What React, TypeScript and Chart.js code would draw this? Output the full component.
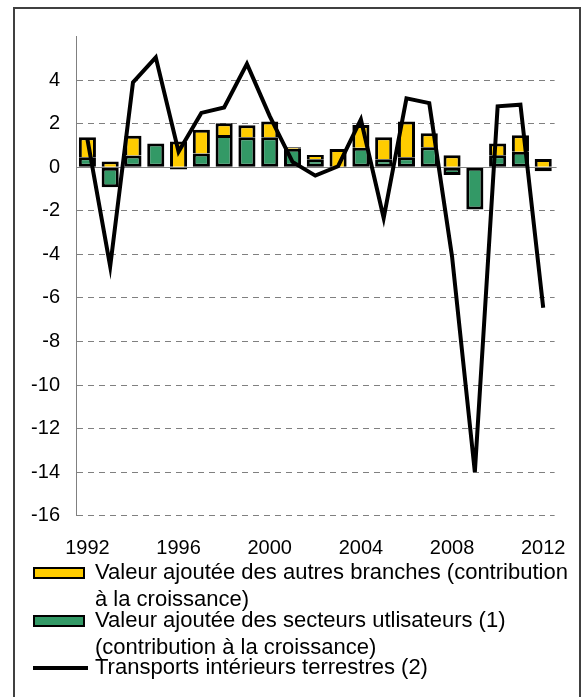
import React, { useEffect, useRef } from 'react';
import { Chart, registerables } from 'chart.js';

Chart.register(...registerables);

// ---- data ----
const years = [
  '1992', '1993', '1994', '1995', '1996', '1997', '1998', '1999', '2000', '2001', '2002',
  '2003', '2004', '2005', '2006', '2007', '2008', '2009', '2010', '2011', '2012',
];
const shownYears = ['1992', '1996', '2000', '2004', '2008', '2012'];

// Valeur ajoutée des secteurs utilisateurs (contribution à la croissance)
const secteursUtilisateurs = [
  0.46, -0.92, 0.54, 1.1, -0.1, 0.64, 1.49, 1.38, 1.38, 0.85, 0.37,
  0.03, 0.9, 0.37, 0.46, 0.92, -0.35, -1.94, 0.55, 0.72, -0.18,
];
// Valeur ajoutée des autres branches (contribution à la croissance)
const autresBranches = [
  0.92, 0.27, 0.91, 0, 1.19, 1.09, 0.54, 0.55, 0.73, 0.07, 0.2,
  0.81, 1.04, 1.01, 1.65, 0.64, 0.55, 0, 0.55, 0.75, 0.38,
];
// Transports intérieurs terrestres
const transports = [
  1.3, -4.55, 3.9, 5.05, 0.72, 2.5, 2.75, 4.75, 2.35, 0.25, -0.38,
  0.05, 2.2, -2.33, 3.17, 2.95, -4.1, -14.0, 2.8, 2.88, -6.45,
];

const yMin = -16;
const yMax = 6;
const yStep = 2;
const hiddenYTicks = [6];

const labelAutres = ['Valeur ajoutée des autres branches (contribution', 'à la croissance)'];
const labelSecteurs = ['Valeur ajoutée des secteurs utlisateurs (1)', '(contribution à la croissance)'];
const labelTransports = ['Transports intérieurs terrestres (2)'];

const YELLOW = '#FFCC00';
const GREEN = '#339966';
const GRAY = '#808080';
const FONT = "'Liberation Sans', Arial, sans-serif";

const zeroLinePlugin = {
  id: 'zeroLine',
  beforeDatasetsDraw(chart: any) {
    const { ctx, chartArea, scales } = chart;
    const y = Math.round(scales.y.getPixelForValue(0)) + 0.5;
    ctx.save();
    ctx.strokeStyle = GRAY;
    ctx.lineWidth = 1;
    ctx.beginPath();
    ctx.moveTo(chartArea.left, y);
    ctx.lineTo(chartArea.right + 2, y);
    ctx.stroke();
    ctx.restore();
  },
};

export default function App() {
  const canvasRef = useRef<HTMLCanvasElement | null>(null);

  useEffect(() => {
    if (!canvasRef.current) return;
    const chart = new Chart(canvasRef.current, {
      type: 'bar',
      data: {
        labels: years,
        datasets: [
          {
            type: 'line',
            label: labelTransports.join(' '),
            data: transports,
            borderColor: '#000000',
            backgroundColor: '#000000',
            borderWidth: 4,
            pointRadius: 0,
            tension: 0,
            order: 0,
          } as any,
          {
            type: 'bar',
            label: labelSecteurs.join(' '),
            data: secteursUtilisateurs,
            backgroundColor: GREEN,
            borderColor: '#000000',
            borderWidth: 3,
            borderSkipped: false,
            stack: 's',
            order: 1,
          },
          {
            type: 'bar',
            label: labelAutres.join(' '),
            data: autresBranches,
            backgroundColor: YELLOW,
            borderColor: '#000000',
            borderWidth: 3,
            borderSkipped: 'start',
            stack: 's',
            order: 1,
          },
        ],
      },
      options: {
        animation: false,
        responsive: true,
        maintainAspectRatio: false,
        layout: { padding: { left: 0, right: 22.4, top: 36.7, bottom: 141.3 } },
        datasets: { bar: { categoryPercentage: 1, barPercentage: 0.75 } },
        plugins: {
          legend: { display: false },
          tooltip: { enabled: false },
        },
        scales: {
          x: {
            stacked: true,
            offset: true,
            grid: { display: false, drawTicks: false },
            border: { display: false },
            ticks: {
              autoSkip: false,
              maxRotation: 0,
              padding: 21,
              color: '#000',
              font: { family: FONT, size: 20 },
              callback: function (this: any, value: any) {
                const lab = years[value as number];
                return shownYears.includes(lab) ? lab : '';
              },
            },
            afterFit: (scale: any) => {
              scale.height = 40;
            },
          },
          y: {
            stacked: true,
            min: yMin,
            max: yMax,
            grid: {
              drawTicks: false,
              lineWidth: 1,
              color: (ctx: any) => {
                const v = ctx.tick ? ctx.tick.value : null;
                if (v === 0 || hiddenYTicks.includes(v)) return 'rgba(0,0,0,0)';
                return GRAY;
              },
            },
            border: { display: true, color: GRAY, width: 1, dash: [6, 5] },
            ticks: {
              stepSize: yStep,
              padding: 16,
              color: '#000',
              font: { family: FONT, size: 20 },
              callback: (value: any) => (hiddenYTicks.includes(value) ? '' : String(value)),
            },
            afterFit: (scale: any) => {
              scale.width = 76;
            },
          },
        },
      },
      plugins: [zeroLinePlugin],
    });
    return () => chart.destroy();
  }, []);

  const legendItems = [
    { lines: labelAutres, kind: 'box', color: YELLOW, textTop: 557.9, markTop: 567 },
    { lines: labelSecteurs, kind: 'box', color: GREEN, textTop: 605.6, markTop: 615 },
    { lines: labelTransports, kind: 'line', color: '#000', textTop: 652.9, markTop: 666.3 },
  ];

  return (
    <div
      style={{
        position: 'absolute',
        left: 0,
        top: 0,
        width: 587,
        height: 697,
        overflow: 'hidden',
        background: '#fff',
      }}
    >
      <div
        style={{
          position: 'absolute',
          left: 13,
          top: 7,
          width: 568,
          height: 720,
          border: '2px solid #404040',
          boxSizing: 'border-box',
        }}
      />
      <canvas
        ref={canvasRef}
        style={{ position: 'absolute', left: 0, top: 0, width: 587, height: 697 }}
      />
      {legendItems.map((it, i) => (
        <React.Fragment key={i}>
          {it.kind === 'box' ? (
            <div
              style={{
                position: 'absolute',
                left: 33,
                top: it.markTop,
                width: 52,
                height: 12,
                background: it.color,
                border: '2px solid #000',
                boxSizing: 'border-box',
              }}
            />
          ) : (
            <div
              style={{
                position: 'absolute',
                left: 33,
                top: it.markTop,
                width: 55,
                height: 4,
                background: it.color,
              }}
            />
          )}
          <div
            style={{
              position: 'absolute',
              left: 95,
              top: it.textTop,
              fontFamily: FONT,
              fontSize: 22,
              lineHeight: '27px',
              color: '#000',
              whiteSpace: 'nowrap',
            }}
          >
            {it.lines.map((l, j) => (
              <React.Fragment key={j}>
                {l}
                {j < it.lines.length - 1 ? <br /> : null}
              </React.Fragment>
            ))}
          </div>
        </React.Fragment>
      ))}
    </div>
  );
}
